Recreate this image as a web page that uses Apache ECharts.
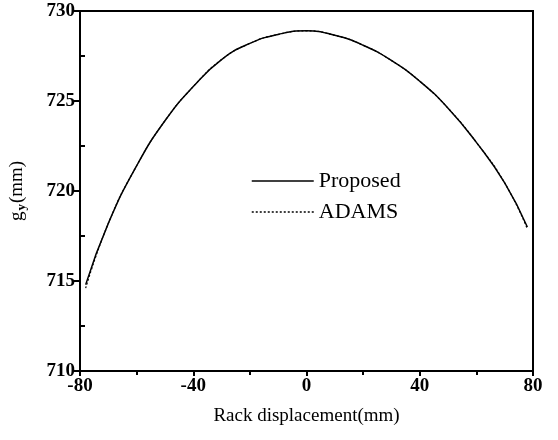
<!DOCTYPE html>
<html>
<head>
<meta charset="utf-8">
<script src="https://cdn.jsdelivr.net/npm/echarts@6/dist/echarts.min.js"></script>
<style>
  html, body { margin: 0; padding: 0; background: #fff; }
  #chart { width: 558px; height: 440px; }
</style>
</head>
<body>
<div id="chart"></div>
<script>
  // rack displacement (mm)
  var rackX = [-78, -70, -60, -50, -40, -30, -20, -10, 0, 10, 20, 30, 40, 50, 60, 70, 78];
  // g_y (mm)
  var proposed = [714.8, 718.2, 721.4, 723.9, 725.8, 727.3, 728.2, 728.7, 728.9, 728.65, 728.1, 727.25, 726.1, 724.6, 722.7, 720.45, 718.0];
  var adams    = [714.6, 718.2, 721.4, 723.9, 725.8, 727.3, 728.2, 728.7, 728.9, 728.65, 728.1, 727.25, 726.1, 724.6, 722.7, 720.45, 717.9];
  var yMinorTicks = [712.5, 717.5, 722.5, 727.5];

  function pairs(xs, ys) {
    return xs.map(function (x, i) { return [x, ys[i]]; });
  }

  var serif = '"Liberation Serif", "DejaVu Serif", serif';
  var chart = echarts.init(document.getElementById('chart'));

  chart.setOption({
    animation: false,
    grid: {
      left: 78, right: 25, top: 11, bottom: 69,
      show: true, borderColor: '#000', borderWidth: 2
    },
    legend: {
      orient: 'vertical',
      left: 246, top: 165,
      itemWidth: 62, itemHeight: 10, itemGap: 9,
      itemStyle: { opacity: 0 },
      lineStyle: { width: 1.5 },
      textStyle: { fontFamily: serif, fontSize: 22, color: '#000', padding: [0, 0, 0, 0] },
      data: ['Proposed', 'ADAMS']
    },
    xAxis: {
      type: 'value',
      min: -80, max: 80, interval: 40,
      axisLine: { show: true, onZero: false, lineStyle: { color: '#000', width: 2 } },
      axisTick: { show: true, length: 5, lineStyle: { color: '#000', width: 2 } },
      minorTick: { show: true, splitNumber: 2, length: 4, lineStyle: { color: '#000', width: 2 } },
      splitLine: { show: false },
      axisLabel: { fontFamily: serif, fontSize: 19, fontWeight: 'bold', color: '#000', margin: 6 },
      name: 'Rack displacement(mm)',
      nameLocation: 'middle', nameGap: 36,
      nameTextStyle: { fontFamily: serif, fontSize: 19, color: '#000' }
    },
    yAxis: [{
      type: 'value',
      min: 710, max: 730, interval: 5,
      axisLine: { show: true, onZero: false, lineStyle: { color: '#000', width: 2 } },
      axisTick: { show: true, length: 6, lineStyle: { color: '#000', width: 2 } },
      splitLine: { show: false },
      axisLabel: { fontFamily: serif, fontSize: 19, fontWeight: 'bold', color: '#000', margin: 5 },
      name: '{g|g}{s|y}{g|(mm)}',
      nameLocation: 'middle', nameGap: 52, nameRotate: 90,
      nameTextStyle: {
        rich: {
          g: { fontFamily: serif, fontSize: 19, color: '#000' },
          s: { fontFamily: serif, fontSize: 13, fontWeight: 'bold', color: '#000', verticalAlign: 'bottom', padding: [8, 1, 0, 1] }
        }
      }
    }, {
      // inward minor ticks on the left axis
      type: 'value',
      position: 'left',
      min: 710, max: 730,
      axisLine: { show: false, onZero: false },
      axisTick: { show: true, inside: true, length: 5, customValues: yMinorTicks, lineStyle: { color: '#000', width: 2 } },
      axisLabel: { show: false },
      splitLine: { show: false }
    }],
    series: [{
      name: 'Proposed',
      type: 'line',
      smooth: true,
      symbol: 'none',
      lineStyle: { color: '#000', width: 1.5, type: 'solid' },
      itemStyle: { color: '#000' },
      data: pairs(rackX, proposed)
    }, {
      name: 'ADAMS',
      type: 'line',
      smooth: true,
      symbol: 'none',
      lineStyle: { color: '#000', width: 1.2, type: [2, 2] },
      itemStyle: { color: '#000' },
      data: pairs(rackX, adams)
    }]
  });

  window.addEventListener('resize', function () {
    chart.resize();
  });
</script>
</body>
</html>
